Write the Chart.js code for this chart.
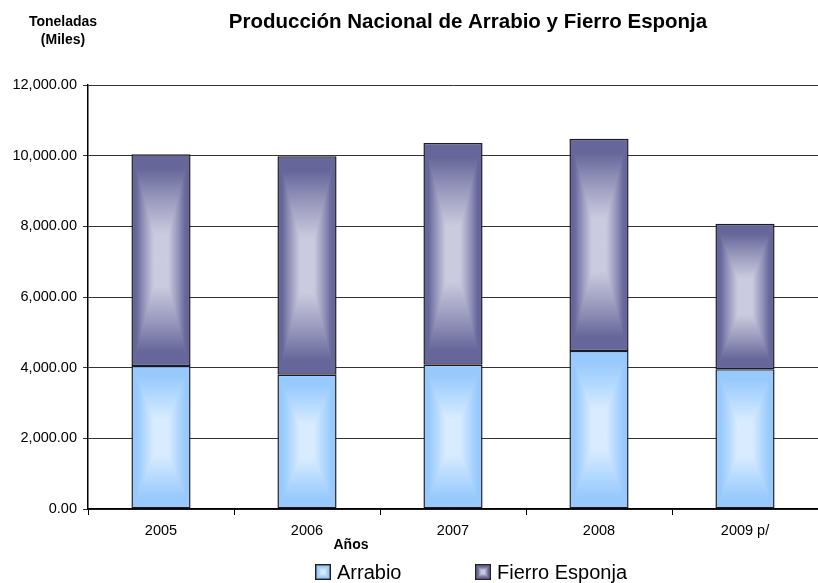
<!DOCTYPE html>
<html lang="es">
<head>
<meta charset="UTF-8">
<title>Producción Nacional de Arrabio y Fierro Esponja</title>
<script src="https://cdn.jsdelivr.net/npm/chart.js"></script>
<style>
  html, body { margin: 0; padding: 0; background: #fff; }
  #wrap { width: 818px; height: 583px; }
</style>
</head>
<body>
<div id="wrap"><canvas id="chart" width="818" height="583"></canvas></div>
<script>
// Datos (miles de toneladas)
const years = ['2005', '2006', '2007', '2008', '2009 p/'];
const arrabio = [4050, 3800, 4085, 4470, 3955];
const fierroEsponja = [5990, 6180, 6270, 6010, 4115];
const seriesNames = ['Arrabio', 'Fierro Esponja'];

const Y_MIN = 0;
const Y_MAX = 12000;
const Y_STEP = 2000;

const FONT = 'Arial, "Liberation Sans", sans-serif';

// edge / middle / centre colours for the "from centre" bar shading
const shades = [
  ['#97c9fc', '#b0d7ff', '#d9ecff'],
  ['#66669a', '#9393b9', '#cbcbdf']
];

// fill one rectangle with a rectangular gradient built from four triangles
function shadeRect(ctx, l, t, w, h, cols) {
  const cx = l + w / 2, cy = t + h / 2;
  const r = l + w, b = t + h;
  const tris = [
    [[l, t], [r, t], [l, t, l, cy]],
    [[r, b], [l, b], [l, b, l, cy]],
    [[l, t], [l, b], [l, t, cx, t]],
    [[r, t], [r, b], [r, t, cx, t]]
  ];
  ctx.save();
  ctx.beginPath();
  ctx.rect(l, t, w, h);
  ctx.clip();
  tris.forEach(([p1, p2, g]) => {
    const grad = ctx.createLinearGradient(g[0], g[1], g[2], g[3]);
    grad.addColorStop(0, cols[0]);
    grad.addColorStop(0.12, cols[0]);
    grad.addColorStop(0.38, cols[1]);
    grad.addColorStop(0.75, cols[2]);
    grad.addColorStop(1, cols[2]);
    ctx.beginPath();
    ctx.moveTo(p1[0], p1[1]);
    ctx.lineTo(p2[0], p2[1]);
    ctx.lineTo(cx, cy);
    ctx.closePath();
    ctx.fillStyle = grad;
    ctx.fill();
    // cover the anti-aliased seams between neighbouring triangles
    ctx.strokeStyle = grad;
    ctx.lineWidth = 0.8;
    ctx.stroke();
  });
  ctx.restore();
}

const barShading = {
  id: 'barShading',
  afterDatasetsDraw(chart) {
    const ctx = chart.ctx;
    ctx.save();
    chart.data.datasets.forEach((ds, di) => {
      const meta = chart.getDatasetMeta(di);
      const bw = ds.borderWidth;
      meta.data.forEach(el => {
        const p = el.getProps(['x', 'y', 'base', 'width'], true);
        const top = Math.min(p.y, p.base);
        const h = Math.abs(p.base - p.y);
        shadeRect(ctx, p.x - p.width / 2 + bw, top + bw, p.width - 2 * bw, h - 2 * bw, shades[di]);
      });
    });
    ctx.restore();
  }
};

// titles and legend
const labelsPlugin = {
  id: 'labelsPlugin',
  afterDraw(chart) {
    const ctx = chart.ctx;
    ctx.save();
    ctx.fillStyle = '#000';
    ctx.textAlign = 'center';
    ctx.textBaseline = 'middle';

    ctx.font = 'bold 20.5px ' + FONT;
    ctx.fillText('Producción Nacional de Arrabio y Fierro Esponja', 468, 22);

    ctx.font = 'bold 14px ' + FONT;
    ctx.fillText('Toneladas', 63, 22);
    ctx.fillText('(Miles)', 63, 40);
    ctx.fillText('Años', 351, 545);

    // legend
    ctx.font = '20px ' + FONT;
    ctx.textAlign = 'left';
    const legendX = [315, 475];
    seriesNames.forEach((name, i) => {
      const x = legendX[i], y = 564;
      ctx.fillStyle = shades[i][1];
      ctx.fillRect(x, y, 16, 16);
      shadeRect(ctx, x + 2, y + 2, 12, 12, shades[i]);
      ctx.strokeStyle = '#222';
      ctx.lineWidth = 1.5;
      ctx.strokeRect(x + 0.75, y + 0.75, 14.5, 14.5);
      ctx.fillStyle = '#000';
      ctx.fillText(name, x + 22, y + 9);
    });
    ctx.restore();
  }
};

const fmt = v => v.toLocaleString('en-US', { minimumFractionDigits: 2, maximumFractionDigits: 2 });

new Chart(document.getElementById('chart'), {
  type: 'bar',
  data: {
    labels: years,
    datasets: [
      {
        label: seriesNames[0],
        data: arrabio,
        backgroundColor: shades[0][1],
        borderColor: '#1b1b24',
        borderWidth: 1.5,
        borderSkipped: false,
        categoryPercentage: 1,
        barPercentage: 0.405
      },
      {
        label: seriesNames[1],
        data: fierroEsponja,
        backgroundColor: shades[1][1],
        borderColor: '#1b1b24',
        borderWidth: 1.5,
        borderSkipped: false,
        categoryPercentage: 1,
        barPercentage: 0.405
      }
    ]
  },
  options: {
    responsive: false,
    animation: false,
    devicePixelRatio: 1,
    layout: { padding: { left: 0, right: 0, top: 85, bottom: 34 } },
    plugins: {
      legend: { display: false },
      title: { display: false },
      tooltip: { enabled: false }
    },
    scales: {
      x: {
        stacked: true,
        afterFit: s => { s.height = 40; },
        grid: {
          offset: true,
          drawOnChartArea: false,
          tickLength: 6,
          color: '#000'
        },
        border: { color: '#000', width: 1.5 },
        ticks: {
          color: '#000',
          padding: 7,
          font: { family: FONT, size: 14.5 }
        }
      },
      y: {
        stacked: true,
        min: Y_MIN,
        max: Y_MAX,
        afterFit: s => { s.width = 88; },
        grid: {
          color: '#333',
          tickLength: 5
        },
        border: { color: '#000', width: 1.5 },
        ticks: {
          stepSize: Y_STEP,
          color: '#000',
          padding: 6,
          font: { family: FONT, size: 14.5 },
          callback: v => fmt(v)
        }
      }
    }
  },
  plugins: [barShading, labelsPlugin]
});
</script>
</body>
</html>
